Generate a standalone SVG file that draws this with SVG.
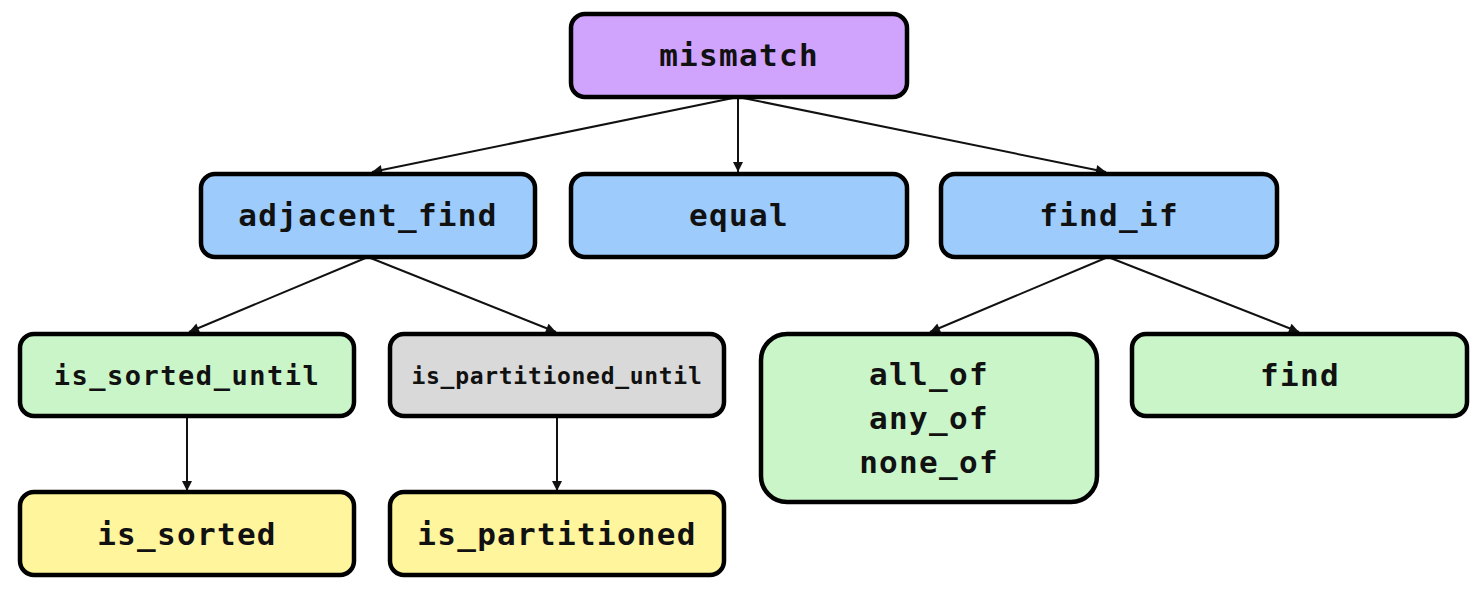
<svg xmlns="http://www.w3.org/2000/svg" width="1481" height="589" viewBox="0 0 1481 589">
<style>
.box{stroke:#000;stroke-width:4.5}
.t{font-family:"DejaVu Sans Mono","Liberation Mono",monospace;font-weight:bold;font-size:31px;letter-spacing:1.3px;text-anchor:middle;fill:#111}
.c{stroke:#111;stroke-width:2;fill:none;marker-end:url(#ah)}
</style>
<defs>
<marker id="ah" viewBox="0 0 10 10" refX="10" refY="5" markerWidth="11" markerHeight="10" orient="auto" markerUnits="userSpaceOnUse">
<path d="M0,0 L10,5 L0,10 z" fill="#111"/>
</marker>
</defs>
<rect width="1481" height="589" fill="#fff"/>
<g id="connectors">
<line class="c" x1="738" y1="97" x2="372" y2="172"/>
<line class="c" x1="738" y1="97" x2="738" y2="172"/>
<line class="c" x1="738" y1="97" x2="1106" y2="172"/>
<line class="c" x1="368" y1="257" x2="189" y2="332"/>
<line class="c" x1="368" y1="257" x2="556" y2="332"/>
<line class="c" x1="1108" y1="257" x2="930" y2="332"/>
<line class="c" x1="1108" y1="257" x2="1299" y2="332"/>
<line class="c" x1="187" y1="417" x2="187" y2="491"/>
<line class="c" x1="557" y1="417" x2="557" y2="491"/>
</g>
<g id="mismatch"><rect class="box" x="571" y="14" width="336" height="83" rx="14" fill="#d0a3fd"/><text class="t" x="739" y="66">mismatch</text></g>
<g id="adjacent_find"><rect class="box" x="201" y="174" width="334" height="83" rx="14" fill="#9ccbfc"/><text class="t" x="368" y="226">adjacent_find</text></g>
<g id="equal"><rect class="box" x="571" y="174" width="336" height="83" rx="14" fill="#9ccbfc"/><text class="t" x="739" y="226">equal</text></g>
<g id="find_if"><rect class="box" x="941" y="174" width="336" height="83" rx="14" fill="#9ccbfc"/><text class="t" x="1109" y="226">find_if</text></g>
<g id="is_sorted_until"><rect class="box" x="20" y="334" width="334" height="82" rx="14" fill="#c9f5c9"/><text class="t" x="187" y="385" style="font-size:27px;letter-spacing:1.5px">is_sorted_until</text></g>
<g id="is_partitioned_until"><rect class="box" x="390" y="334" width="334" height="82" rx="14" fill="#d9d9d9"/><text class="t" x="557" y="384" style="font-size:23px;letter-spacing:0.7px">is_partitioned_until</text></g>
<g id="all_any_none_of"><rect class="box" x="761" y="334" width="336" height="168" rx="26" fill="#c9f5c9"/>
<text class="t" x="929" y="385">all_of</text><text class="t" x="929" y="429">any_of</text><text class="t" x="929" y="473">none_of</text></g>
<g id="find"><rect class="box" x="1132" y="334" width="335" height="82" rx="14" fill="#c9f5c9"/><text class="t" x="1300" y="386">find</text></g>
<g id="is_sorted"><rect class="box" x="20" y="492" width="334" height="83" rx="14" fill="#fff59d"/><text class="t" x="187" y="545">is_sorted</text></g>
<g id="is_partitioned"><rect class="box" x="390" y="492" width="334" height="83" rx="14" fill="#fff59d"/><text class="t" x="557" y="545">is_partitioned</text></g>
</svg>
